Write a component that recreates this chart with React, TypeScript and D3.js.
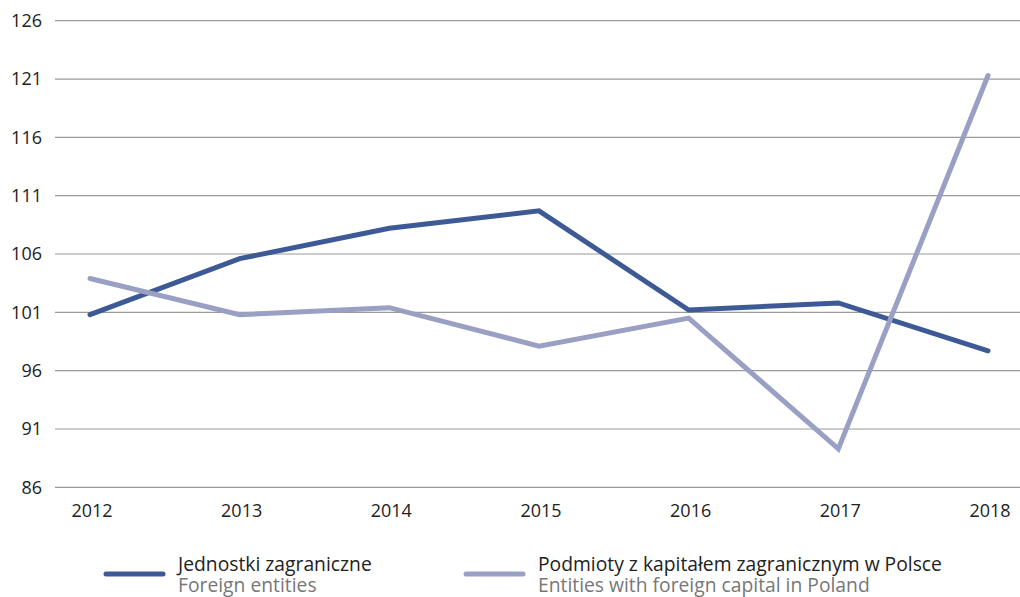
import React from "react";
import * as d3 from "d3";

const years = ["2012", "2013", "2014", "2015", "2016", "2017", "2018"];
const foreignEntities = [100.8, 105.6, 108.2, 109.7, 101.2, 101.8, 97.7];
const foreignCapital = [103.9, 100.8, 101.4, 98.1, 100.5, 89.3, 121.3];
const yTicks = [86, 91, 96, 101, 106, 111, 116, 121, 126];

const seriesNames = [
  { pl: "Jednostki zagraniczne", en: "Foreign entities" },
  { pl: "Podmioty z kapitałem zagranicznym w Polsce", en: "Entities with foreign capital in Poland" },
];
const colors = ["#3d5a96", "#9a9fc4"];

export default function App() {
  const W = 1020;
  const H = 597;
  const x = d3.scalePoint<string>().domain(years).range([90, 988]);
  const y = d3.scaleLinear().domain([86, 126]).range([487.3, 20.7]);
  const line = d3
    .line<number>()
    .x((_, i) => x(years[i]) as number)
    .y((d) => y(d));
  const series = [foreignEntities, foreignCapital];
  const legendX = [106, 466];
  const font = "'Open Sans', 'Noto Sans', sans-serif";

  return (
    <svg
      width={W}
      height={H}
      style={{ position: "absolute", left: 0, top: 0, background: "#fff" }}
      fontFamily={font}
    >
      {yTicks.map((t) => (
        <g key={t}>
          <line x1={55} x2={W} y1={y(t)} y2={y(t)} stroke="#9a9a9a" strokeWidth={1.2} />
          <text x={42} y={y(t)} dy="0.35em" textAnchor="end" fontSize={18} fill="#222">
            {t}
          </text>
        </g>
      ))}
      {years.map((yr) => (
        <text key={yr} x={(x(yr) as number) + 2} y={517} textAnchor="middle" fontSize={18} fill="#222">
          {yr}
        </text>
      ))}
      {series.map((s, i) => (
        <path
          key={i}
          d={line(s) || ""}
          fill="none"
          stroke={colors[i]}
          strokeWidth={5}
          strokeLinecap="round"
          strokeLinejoin="miter"
        />
      ))}
      {seriesNames.map((n, i) => (
        <g key={n.en}>
          <line
            x1={legendX[i]}
            x2={legendX[i] + 57}
            y1={574}
            y2={574}
            stroke={colors[i]}
            strokeWidth={5}
            strokeLinecap="round"
          />
          <text x={legendX[i] + 72} y={571} fontSize={19.3} fill="#222">
            {n.pl}
          </text>
          <text x={legendX[i] + 72} y={592} fontSize={19.3} fill="#777">
            {n.en}
          </text>
        </g>
      ))}
    </svg>
  );
}
